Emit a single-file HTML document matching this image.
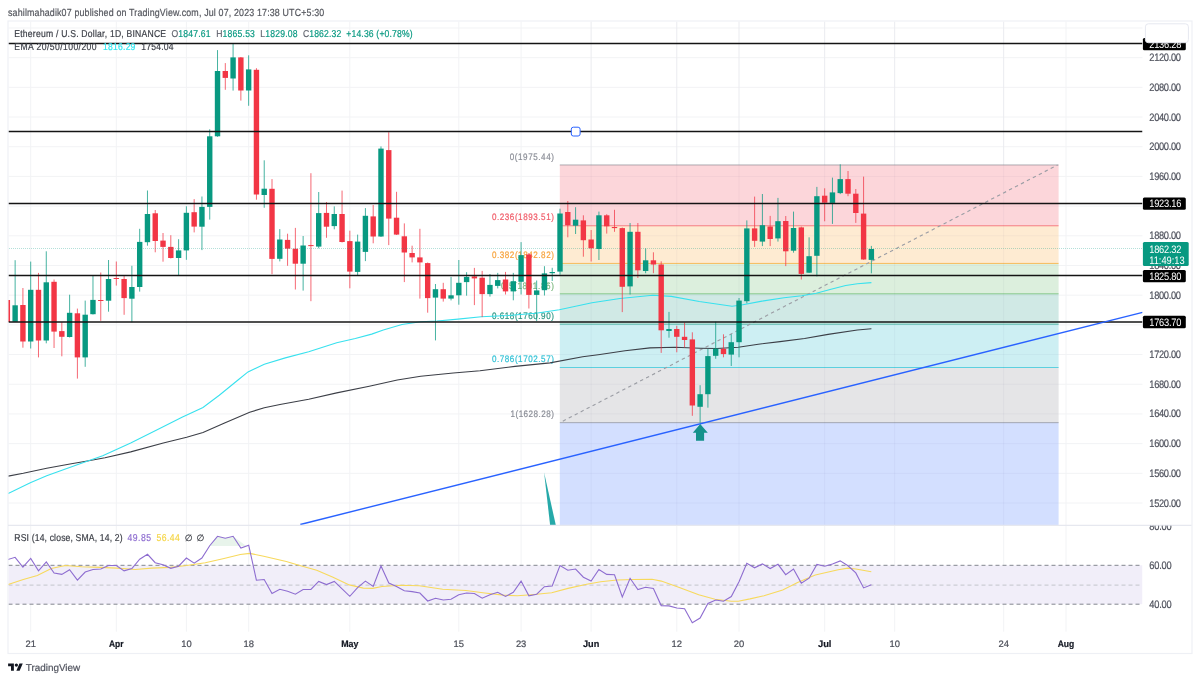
<!DOCTYPE html>
<html><head><meta charset="utf-8"><title>ETHUSD chart</title>
<style>
html,body{margin:0;padding:0;background:#fff;width:1200px;height:681px;overflow:hidden}
svg{display:block;will-change:transform;text-rendering:geometricPrecision}
text{font-family:'Liberation Sans', Arial, sans-serif}
</style></head><body>
<svg width="1200" height="681" viewBox="0 0 1200 681">
<defs>
<clipPath id="plot"><rect x="8.5" y="21.5" width="1134.0" height="503.79999999999995"/></clipPath>
<clipPath id="rsi"><rect x="8.5" y="525.3" width="1134.0" height="106.40000000000009"/></clipPath>
<clipPath id="rsiaxis"><rect x="1142.5" y="525.8" width="49.0" height="106.40000000000009"/></clipPath>
</defs>
<rect width="1200" height="681" fill="#fff"/>

<text x="9.30" y="16.0" font-size="10.3" fill="#55575e" textLength="367.79" lengthAdjust="spacing" transform="scale(0.86,1)" stroke="#55575e" stroke-width="0.2">sahilmahadik07 published on TradingView.com, Jul 07, 2023 17:38 UTC+5:30</text>
<rect x="8" y="21" width="1184.0" height="632.5" fill="none" stroke="#eef0f5" stroke-width="1.2"/>
<g stroke="#f2f3f5" stroke-width="1">
<line x1="30.7" y1="21.5" x2="30.7" y2="631.7"/>
<line x1="116.3" y1="21.5" x2="116.3" y2="631.7"/>
<line x1="186.4" y1="21.5" x2="186.4" y2="631.7"/>
<line x1="248.7" y1="21.5" x2="248.7" y2="631.7"/>
<line x1="349.8" y1="21.5" x2="349.8" y2="631.7"/>
<line x1="458.8" y1="21.5" x2="458.8" y2="631.7"/>
<line x1="521.1" y1="21.5" x2="521.1" y2="631.7"/>
<line x1="591.1" y1="21.5" x2="591.1" y2="631.7"/>
<line x1="676.8" y1="21.5" x2="676.8" y2="631.7"/>
<line x1="739.0" y1="21.5" x2="739.0" y2="631.7"/>
<line x1="824.7" y1="21.5" x2="824.7" y2="631.7"/>
<line x1="894.7" y1="21.5" x2="894.7" y2="631.7"/>
<line x1="1003.7" y1="21.5" x2="1003.7" y2="631.7"/>
<line x1="1066.0" y1="21.5" x2="1066.0" y2="631.7"/>
<line x1="8.5" y1="27.97" x2="1142.5" y2="27.97"/>
<line x1="8.5" y1="57.66" x2="1142.5" y2="57.66"/>
<line x1="8.5" y1="87.35" x2="1142.5" y2="87.35"/>
<line x1="8.5" y1="117.04" x2="1142.5" y2="117.04"/>
<line x1="8.5" y1="146.73" x2="1142.5" y2="146.73"/>
<line x1="8.5" y1="176.42" x2="1142.5" y2="176.42"/>
<line x1="8.5" y1="206.12" x2="1142.5" y2="206.12"/>
<line x1="8.5" y1="235.81" x2="1142.5" y2="235.81"/>
<line x1="8.5" y1="265.50" x2="1142.5" y2="265.50"/>
<line x1="8.5" y1="295.19" x2="1142.5" y2="295.19"/>
<line x1="8.5" y1="324.88" x2="1142.5" y2="324.88"/>
<line x1="8.5" y1="354.57" x2="1142.5" y2="354.57"/>
<line x1="8.5" y1="384.26" x2="1142.5" y2="384.26"/>
<line x1="8.5" y1="413.95" x2="1142.5" y2="413.95"/>
<line x1="8.5" y1="443.65" x2="1142.5" y2="443.65"/>
<line x1="8.5" y1="473.34" x2="1142.5" y2="473.34"/>
<line x1="8.5" y1="503.03" x2="1142.5" y2="503.03"/>
</g>
<g clip-path="url(#plot)">
<rect x="559.8" y="164.96" width="498.8" height="60.82" fill="#fcd6da"/>
<rect x="559.8" y="225.78" width="498.8" height="37.63" fill="#feebd2"/>
<rect x="559.8" y="263.41" width="498.8" height="30.40" fill="#dcefdd"/>
<rect x="559.8" y="293.81" width="498.8" height="30.40" fill="#d0e9e5"/>
<rect x="559.8" y="324.21" width="498.8" height="43.30" fill="#cdeff3"/>
<rect x="559.8" y="367.51" width="498.8" height="55.14" fill="#e5e5e7"/>
<rect x="559.8" y="422.65" width="498.8" height="104.65" fill="#d3dfff"/>
</g>
<g stroke="#1a2a60" stroke-opacity="0.035" stroke-width="1" clip-path="url(#plot)">
<line x1="591.1" y1="21.5" x2="591.1" y2="525.3"/>
<line x1="676.8" y1="21.5" x2="676.8" y2="525.3"/>
<line x1="739.0" y1="21.5" x2="739.0" y2="525.3"/>
<line x1="824.7" y1="21.5" x2="824.7" y2="525.3"/>
<line x1="894.7" y1="21.5" x2="894.7" y2="525.3"/>
<line x1="1003.7" y1="21.5" x2="1003.7" y2="525.3"/>
<line x1="559.8" y1="176.42" x2="1058.6" y2="176.42"/>
<line x1="559.8" y1="206.12" x2="1058.6" y2="206.12"/>
<line x1="559.8" y1="235.81" x2="1058.6" y2="235.81"/>
<line x1="559.8" y1="265.50" x2="1058.6" y2="265.50"/>
<line x1="559.8" y1="295.19" x2="1058.6" y2="295.19"/>
<line x1="559.8" y1="324.88" x2="1058.6" y2="324.88"/>
<line x1="559.8" y1="354.57" x2="1058.6" y2="354.57"/>
<line x1="559.8" y1="384.26" x2="1058.6" y2="384.26"/>
<line x1="559.8" y1="413.95" x2="1058.6" y2="413.95"/>
<line x1="559.8" y1="443.65" x2="1058.6" y2="443.65"/>
<line x1="559.8" y1="473.34" x2="1058.6" y2="473.34"/>
<line x1="559.8" y1="503.03" x2="1058.6" y2="503.03"/>
</g>
<g clip-path="url(#plot)">
<line x1="559.8" y1="164.96" x2="1058.6" y2="164.96" stroke="#787b86" stroke-width="1" stroke-opacity="0.6"/>
<line x1="559.8" y1="225.78" x2="1058.6" y2="225.78" stroke="#f23645" stroke-width="1" stroke-opacity="0.6"/>
<line x1="559.8" y1="263.41" x2="1058.6" y2="263.41" stroke="#ff9800" stroke-width="1" stroke-opacity="0.6"/>
<line x1="559.8" y1="293.81" x2="1058.6" y2="293.81" stroke="#4caf50" stroke-width="1" stroke-opacity="0.6"/>
<line x1="559.8" y1="324.21" x2="1058.6" y2="324.21" stroke="#089981" stroke-width="1" stroke-opacity="0.6"/>
<line x1="559.8" y1="367.51" x2="1058.6" y2="367.51" stroke="#00bcd4" stroke-width="1" stroke-opacity="0.6"/>
<line x1="559.8" y1="422.65" x2="1058.6" y2="422.65" stroke="#787b86" stroke-width="1" stroke-opacity="0.6"/>
<text x="592.67" y="159.66" font-size="9.4" fill="#8a8d96" textLength="51.40" lengthAdjust="spacing" transform="scale(0.86,1)" stroke="#8a8d96" stroke-width="0.2">0(1975.44)</text>
<text x="571.98" y="220.48" font-size="9.4" fill="#f05a67" textLength="72.09" lengthAdjust="spacing" transform="scale(0.86,1)" stroke="#f05a67" stroke-width="0.2">0.236(1893.51)</text>
<text x="571.98" y="258.11" font-size="9.4" fill="#f7a23a" textLength="72.09" lengthAdjust="spacing" transform="scale(0.86,1)" stroke="#f7a23a" stroke-width="0.2">0.382(1842.82)</text>
<text x="582.44" y="288.51" font-size="9.4" fill="#7bb77e" textLength="61.63" lengthAdjust="spacing" transform="scale(0.86,1)" stroke="#7bb77e" stroke-width="0.2">0.5(1801.86)</text>
<text x="571.98" y="318.91" font-size="9.4" fill="#2a9683" textLength="72.09" lengthAdjust="spacing" transform="scale(0.86,1)" stroke="#2a9683" stroke-width="0.2">0.618(1760.90)</text>
<text x="571.98" y="362.21" font-size="9.4" fill="#2ec0d5" textLength="72.09" lengthAdjust="spacing" transform="scale(0.86,1)" stroke="#2ec0d5" stroke-width="0.2">0.786(1702.57)</text>
<text x="593.60" y="417.35" font-size="9.4" fill="#8a8d96" textLength="50.47" lengthAdjust="spacing" transform="scale(0.86,1)" stroke="#8a8d96" stroke-width="0.2">1(1628.28)</text>
<line x1="562.8" y1="421.15" x2="1057.6" y2="164.96" stroke="#9c9ea5" stroke-width="1.15" stroke-dasharray="3.4,3.3"/>
<polyline points="8.2,476.1 23.3,473.3 46.7,468.2 70.0,464.0 88.7,460.7 105.0,457.7 130.7,451.9 163.3,443.0 186.7,437.2 203.0,432.5 224.0,423.2 249.7,412.2 264.3,407.8 280.0,404.5 308.7,399.2 336.7,392.9 369.3,386.3 397.3,380.0 420.7,376.3 453.3,373.0 480.0,370.8 515.0,366.4 550.0,362.9 582.7,356.8 600.0,354.5 625.0,350.8 650.0,347.9 675.0,347.2 700.0,348.2 716.7,348.5 738.3,347.3 758.3,344.2 780.0,341.6 804.6,338.5 828.1,334.4 857.4,330.0 871.4,328.8" fill="none" stroke="#3c3f47" stroke-width="1.1"/>
<polyline points="8.2,493.6 30.3,482.7 46.7,475.7 79.3,464.0 102.7,455.8 130.7,443.0 158.7,429.0 182.0,417.3 203.0,407.5 219.3,395.2 238.0,380.0 248.0,371.9 264.3,364.2 285.3,357.9 308.7,351.8 336.7,342.7 355.3,338.5 371.7,334.1 383.3,329.9 402.0,324.5 420.7,321.7 437.0,321.0 458.0,319.1 481.3,316.8 508.0,315.5 536.0,313.2 559.3,309.7 592.0,302.7 620.0,298.5 652.7,295.2 671.3,296.4 699.3,301.5 732.0,306.2 741.5,305.0 762.0,301.1 784.0,297.7 801.7,295.8 816.3,293.3 831.0,289.3 845.7,285.5 857.4,283.8 871.4,282.6" fill="none" stroke="#38e1ee" stroke-width="1.1"/>
<line x1="7.35" y1="300.0" x2="7.35" y2="322.0" stroke="#f23645" stroke-width="1" stroke-opacity="0.75"/>
<rect x="4.65" y="300.0" width="5.4" height="22.0" fill="#f23645"/>
<line x1="15.13" y1="260.2" x2="15.13" y2="321.8" stroke="#089981" stroke-width="1" stroke-opacity="0.75"/>
<rect x="12.43" y="305.3" width="5.4" height="16.5" fill="#089981"/>
<line x1="22.92" y1="288.0" x2="22.92" y2="347.7" stroke="#f23645" stroke-width="1" stroke-opacity="0.75"/>
<rect x="20.22" y="305.0" width="5.4" height="36.5" fill="#f23645"/>
<line x1="30.70" y1="261.6" x2="30.70" y2="348.5" stroke="#089981" stroke-width="1" stroke-opacity="0.75"/>
<rect x="28.00" y="289.8" width="5.4" height="51.7" fill="#089981"/>
<line x1="38.48" y1="272.9" x2="38.48" y2="357.4" stroke="#f23645" stroke-width="1" stroke-opacity="0.75"/>
<rect x="35.78" y="289.8" width="5.4" height="50.7" fill="#f23645"/>
<line x1="46.27" y1="251.3" x2="46.27" y2="343.3" stroke="#089981" stroke-width="1" stroke-opacity="0.75"/>
<rect x="43.57" y="282.3" width="5.4" height="58.2" fill="#089981"/>
<line x1="54.05" y1="279.5" x2="54.05" y2="348.0" stroke="#f23645" stroke-width="1" stroke-opacity="0.75"/>
<rect x="51.35" y="281.8" width="5.4" height="49.8" fill="#f23645"/>
<line x1="61.84" y1="322.2" x2="61.84" y2="356.3" stroke="#f23645" stroke-width="1" stroke-opacity="0.75"/>
<rect x="59.14" y="331.1" width="5.4" height="5.7" fill="#f23645"/>
<line x1="69.62" y1="294.7" x2="69.62" y2="337.5" stroke="#089981" stroke-width="1" stroke-opacity="0.75"/>
<rect x="66.92" y="312.8" width="5.4" height="24.2" fill="#089981"/>
<line x1="77.40" y1="308.6" x2="77.40" y2="378.6" stroke="#f23645" stroke-width="1" stroke-opacity="0.75"/>
<rect x="74.70" y="313.3" width="5.4" height="44.1" fill="#f23645"/>
<line x1="85.19" y1="300.6" x2="85.19" y2="366.8" stroke="#089981" stroke-width="1" stroke-opacity="0.75"/>
<rect x="82.49" y="314.7" width="5.4" height="42.7" fill="#089981"/>
<line x1="92.97" y1="275.7" x2="92.97" y2="314.5" stroke="#089981" stroke-width="1" stroke-opacity="0.75"/>
<rect x="90.27" y="299.9" width="5.4" height="14.3" fill="#089981"/>
<line x1="100.76" y1="272.5" x2="100.76" y2="320.8" stroke="#f23645" stroke-width="1" stroke-opacity="0.75"/>
<rect x="98.06" y="300.0" width="5.4" height="1.0" fill="#f23645"/>
<line x1="108.54" y1="260.0" x2="108.54" y2="311.7" stroke="#089981" stroke-width="1" stroke-opacity="0.75"/>
<rect x="105.84" y="279.0" width="5.4" height="21.7" fill="#089981"/>
<line x1="116.32" y1="261.5" x2="116.32" y2="285.6" stroke="#f23645" stroke-width="1" stroke-opacity="0.75"/>
<rect x="113.62" y="278.0" width="5.4" height="1.0" fill="#f23645"/>
<line x1="124.11" y1="275.7" x2="124.11" y2="314.8" stroke="#f23645" stroke-width="1" stroke-opacity="0.75"/>
<rect x="121.41" y="279.0" width="5.4" height="19.1" fill="#f23645"/>
<line x1="131.89" y1="265.8" x2="131.89" y2="322.3" stroke="#089981" stroke-width="1" stroke-opacity="0.75"/>
<rect x="129.19" y="287.0" width="5.4" height="11.7" fill="#089981"/>
<line x1="139.68" y1="228.8" x2="139.68" y2="291.6" stroke="#089981" stroke-width="1" stroke-opacity="0.75"/>
<rect x="136.98" y="241.9" width="5.4" height="45.1" fill="#089981"/>
<line x1="147.46" y1="190.5" x2="147.46" y2="245.7" stroke="#089981" stroke-width="1" stroke-opacity="0.75"/>
<rect x="144.76" y="214.0" width="5.4" height="28.2" fill="#089981"/>
<line x1="155.24" y1="210.0" x2="155.24" y2="252.3" stroke="#f23645" stroke-width="1" stroke-opacity="0.75"/>
<rect x="152.54" y="213.3" width="5.4" height="27.7" fill="#f23645"/>
<line x1="163.03" y1="233.0" x2="163.03" y2="261.7" stroke="#f23645" stroke-width="1" stroke-opacity="0.75"/>
<rect x="160.33" y="240.6" width="5.4" height="6.3" fill="#f23645"/>
<line x1="170.81" y1="235.2" x2="170.81" y2="258.5" stroke="#f23645" stroke-width="1" stroke-opacity="0.75"/>
<rect x="168.11" y="246.9" width="5.4" height="11.1" fill="#f23645"/>
<line x1="178.60" y1="239.2" x2="178.60" y2="275.1" stroke="#089981" stroke-width="1" stroke-opacity="0.75"/>
<rect x="175.90" y="250.4" width="5.4" height="7.6" fill="#089981"/>
<line x1="186.38" y1="206.3" x2="186.38" y2="259.8" stroke="#089981" stroke-width="1" stroke-opacity="0.75"/>
<rect x="183.68" y="212.8" width="5.4" height="37.6" fill="#089981"/>
<line x1="194.16" y1="199.1" x2="194.16" y2="232.4" stroke="#f23645" stroke-width="1" stroke-opacity="0.75"/>
<rect x="191.46" y="212.2" width="5.4" height="14.4" fill="#f23645"/>
<line x1="201.95" y1="196.5" x2="201.95" y2="250.1" stroke="#089981" stroke-width="1" stroke-opacity="0.75"/>
<rect x="199.25" y="206.9" width="5.4" height="19.8" fill="#089981"/>
<line x1="209.73" y1="129.3" x2="209.73" y2="219.6" stroke="#089981" stroke-width="1" stroke-opacity="0.75"/>
<rect x="207.03" y="136.3" width="5.4" height="70.6" fill="#089981"/>
<line x1="217.52" y1="50.1" x2="217.52" y2="136.8" stroke="#089981" stroke-width="1" stroke-opacity="0.75"/>
<rect x="214.82" y="71.0" width="5.4" height="65.3" fill="#089981"/>
<line x1="225.30" y1="63.1" x2="225.30" y2="89.8" stroke="#f23645" stroke-width="1" stroke-opacity="0.75"/>
<rect x="222.60" y="71.0" width="5.4" height="6.9" fill="#f23645"/>
<line x1="233.08" y1="43.5" x2="233.08" y2="90.6" stroke="#089981" stroke-width="1" stroke-opacity="0.75"/>
<rect x="230.38" y="57.4" width="5.4" height="21.1" fill="#089981"/>
<line x1="240.87" y1="57.0" x2="240.87" y2="100.6" stroke="#f23645" stroke-width="1" stroke-opacity="0.75"/>
<rect x="238.17" y="57.4" width="5.4" height="33.1" fill="#f23645"/>
<line x1="248.65" y1="55.3" x2="248.65" y2="105.8" stroke="#089981" stroke-width="1" stroke-opacity="0.75"/>
<rect x="245.95" y="69.4" width="5.4" height="21.1" fill="#089981"/>
<line x1="256.44" y1="68.2" x2="256.44" y2="199.7" stroke="#f23645" stroke-width="1" stroke-opacity="0.75"/>
<rect x="253.74" y="69.8" width="5.4" height="124.7" fill="#f23645"/>
<line x1="264.22" y1="160.3" x2="264.22" y2="207.8" stroke="#089981" stroke-width="1" stroke-opacity="0.75"/>
<rect x="261.52" y="188.7" width="5.4" height="6.3" fill="#089981"/>
<line x1="272.00" y1="179.1" x2="272.00" y2="274.2" stroke="#f23645" stroke-width="1" stroke-opacity="0.75"/>
<rect x="269.30" y="188.8" width="5.4" height="70.1" fill="#f23645"/>
<line x1="279.79" y1="229.1" x2="279.79" y2="261.4" stroke="#089981" stroke-width="1" stroke-opacity="0.75"/>
<rect x="277.09" y="239.5" width="5.4" height="19.3" fill="#089981"/>
<line x1="287.57" y1="233.7" x2="287.57" y2="265.8" stroke="#f23645" stroke-width="1" stroke-opacity="0.75"/>
<rect x="284.87" y="239.9" width="5.4" height="8.8" fill="#f23645"/>
<line x1="295.36" y1="227.9" x2="295.36" y2="289.5" stroke="#f23645" stroke-width="1" stroke-opacity="0.75"/>
<rect x="292.66" y="248.7" width="5.4" height="15.0" fill="#f23645"/>
<line x1="303.14" y1="236.0" x2="303.14" y2="290.6" stroke="#089981" stroke-width="1" stroke-opacity="0.75"/>
<rect x="300.44" y="245.5" width="5.4" height="18.2" fill="#089981"/>
<line x1="310.92" y1="173.2" x2="310.92" y2="301.2" stroke="#f23645" stroke-width="1" stroke-opacity="0.75"/>
<rect x="308.22" y="245.1" width="5.4" height="1.0" fill="#f23645"/>
<line x1="318.71" y1="192.0" x2="318.71" y2="248.3" stroke="#089981" stroke-width="1" stroke-opacity="0.75"/>
<rect x="316.01" y="213.1" width="5.4" height="33.5" fill="#089981"/>
<line x1="326.49" y1="202.0" x2="326.49" y2="237.8" stroke="#f23645" stroke-width="1" stroke-opacity="0.75"/>
<rect x="323.79" y="212.9" width="5.4" height="13.8" fill="#f23645"/>
<line x1="334.28" y1="206.4" x2="334.28" y2="229.3" stroke="#089981" stroke-width="1" stroke-opacity="0.75"/>
<rect x="331.58" y="214.0" width="5.4" height="12.1" fill="#089981"/>
<line x1="342.06" y1="190.6" x2="342.06" y2="242.5" stroke="#f23645" stroke-width="1" stroke-opacity="0.75"/>
<rect x="339.36" y="214.0" width="5.4" height="28.0" fill="#f23645"/>
<line x1="349.84" y1="230.7" x2="349.84" y2="288.3" stroke="#f23645" stroke-width="1" stroke-opacity="0.75"/>
<rect x="347.14" y="241.1" width="5.4" height="30.5" fill="#f23645"/>
<line x1="357.63" y1="234.6" x2="357.63" y2="276.0" stroke="#089981" stroke-width="1" stroke-opacity="0.75"/>
<rect x="354.93" y="241.6" width="5.4" height="30.3" fill="#089981"/>
<line x1="365.41" y1="208.1" x2="365.41" y2="261.1" stroke="#089981" stroke-width="1" stroke-opacity="0.75"/>
<rect x="362.71" y="215.8" width="5.4" height="36.1" fill="#089981"/>
<line x1="373.20" y1="205.0" x2="373.20" y2="243.3" stroke="#f23645" stroke-width="1" stroke-opacity="0.75"/>
<rect x="370.50" y="216.4" width="5.4" height="20.1" fill="#f23645"/>
<line x1="380.98" y1="146.4" x2="380.98" y2="237.0" stroke="#089981" stroke-width="1" stroke-opacity="0.75"/>
<rect x="378.28" y="148.6" width="5.4" height="87.9" fill="#089981"/>
<line x1="388.76" y1="132.2" x2="388.76" y2="245.1" stroke="#f23645" stroke-width="1" stroke-opacity="0.75"/>
<rect x="386.06" y="150.1" width="5.4" height="68.5" fill="#f23645"/>
<line x1="396.55" y1="191.8" x2="396.55" y2="235.0" stroke="#f23645" stroke-width="1" stroke-opacity="0.75"/>
<rect x="393.85" y="217.7" width="5.4" height="16.9" fill="#f23645"/>
<line x1="404.33" y1="223.4" x2="404.33" y2="282.1" stroke="#f23645" stroke-width="1" stroke-opacity="0.75"/>
<rect x="401.63" y="236.3" width="5.4" height="16.2" fill="#f23645"/>
<line x1="412.12" y1="245.7" x2="412.12" y2="262.4" stroke="#f23645" stroke-width="1" stroke-opacity="0.75"/>
<rect x="409.42" y="253.0" width="5.4" height="4.4" fill="#f23645"/>
<line x1="419.90" y1="228.8" x2="419.90" y2="298.6" stroke="#f23645" stroke-width="1" stroke-opacity="0.75"/>
<rect x="417.20" y="257.4" width="5.4" height="5.0" fill="#f23645"/>
<line x1="427.68" y1="262.5" x2="427.68" y2="312.7" stroke="#f23645" stroke-width="1" stroke-opacity="0.75"/>
<rect x="424.98" y="263.1" width="5.4" height="35.0" fill="#f23645"/>
<line x1="435.47" y1="284.0" x2="435.47" y2="340.4" stroke="#089981" stroke-width="1" stroke-opacity="0.75"/>
<rect x="432.77" y="289.2" width="5.4" height="8.4" fill="#089981"/>
<line x1="443.25" y1="282.8" x2="443.25" y2="301.6" stroke="#f23645" stroke-width="1" stroke-opacity="0.75"/>
<rect x="440.55" y="289.2" width="5.4" height="9.4" fill="#f23645"/>
<line x1="451.04" y1="276.9" x2="451.04" y2="300.4" stroke="#089981" stroke-width="1" stroke-opacity="0.75"/>
<rect x="448.34" y="295.3" width="5.4" height="3.3" fill="#089981"/>
<line x1="458.82" y1="260.0" x2="458.82" y2="304.7" stroke="#089981" stroke-width="1" stroke-opacity="0.75"/>
<rect x="456.12" y="282.8" width="5.4" height="12.5" fill="#089981"/>
<line x1="466.60" y1="272.2" x2="466.60" y2="295.7" stroke="#089981" stroke-width="1" stroke-opacity="0.75"/>
<rect x="463.90" y="276.9" width="5.4" height="5.2" fill="#089981"/>
<line x1="474.39" y1="267.9" x2="474.39" y2="305.1" stroke="#f23645" stroke-width="1" stroke-opacity="0.75"/>
<rect x="471.69" y="276.4" width="5.4" height="2.0" fill="#f23645"/>
<line x1="482.17" y1="270.9" x2="482.17" y2="317.1" stroke="#f23645" stroke-width="1" stroke-opacity="0.75"/>
<rect x="479.47" y="277.7" width="5.4" height="16.4" fill="#f23645"/>
<line x1="489.96" y1="274.0" x2="489.96" y2="296.6" stroke="#089981" stroke-width="1" stroke-opacity="0.75"/>
<rect x="487.26" y="284.9" width="5.4" height="9.2" fill="#089981"/>
<line x1="497.74" y1="272.9" x2="497.74" y2="288.4" stroke="#089981" stroke-width="1" stroke-opacity="0.75"/>
<rect x="495.04" y="280.1" width="5.4" height="5.8" fill="#089981"/>
<line x1="505.52" y1="271.9" x2="505.52" y2="294.5" stroke="#f23645" stroke-width="1" stroke-opacity="0.75"/>
<rect x="502.82" y="279.5" width="5.4" height="11.9" fill="#f23645"/>
<line x1="513.31" y1="272.9" x2="513.31" y2="300.3" stroke="#089981" stroke-width="1" stroke-opacity="0.75"/>
<rect x="510.61" y="281.2" width="5.4" height="10.2" fill="#089981"/>
<line x1="521.09" y1="242.1" x2="521.09" y2="294.5" stroke="#089981" stroke-width="1" stroke-opacity="0.75"/>
<rect x="518.39" y="255.1" width="5.4" height="26.7" fill="#089981"/>
<line x1="528.88" y1="253.0" x2="528.88" y2="308.5" stroke="#f23645" stroke-width="1" stroke-opacity="0.75"/>
<rect x="526.18" y="254.4" width="5.4" height="40.5" fill="#f23645"/>
<line x1="536.66" y1="280.5" x2="536.66" y2="321.2" stroke="#089981" stroke-width="1" stroke-opacity="0.75"/>
<rect x="533.96" y="290.4" width="5.4" height="4.5" fill="#089981"/>
<line x1="544.44" y1="266.2" x2="544.44" y2="295.5" stroke="#089981" stroke-width="1" stroke-opacity="0.75"/>
<rect x="541.74" y="273.4" width="5.4" height="16.8" fill="#089981"/>
<line x1="552.23" y1="267.8" x2="552.23" y2="281.0" stroke="#089981" stroke-width="1" stroke-opacity="0.75"/>
<rect x="549.53" y="272.0" width="5.4" height="1.2" fill="#089981"/>
<line x1="560.01" y1="208.7" x2="560.01" y2="274.7" stroke="#089981" stroke-width="1" stroke-opacity="0.75"/>
<rect x="557.31" y="213.5" width="5.4" height="58.1" fill="#089981"/>
<line x1="567.80" y1="201.0" x2="567.80" y2="237.3" stroke="#f23645" stroke-width="1" stroke-opacity="0.75"/>
<rect x="565.10" y="212.0" width="5.4" height="13.2" fill="#f23645"/>
<line x1="575.58" y1="207.2" x2="575.58" y2="234.0" stroke="#089981" stroke-width="1" stroke-opacity="0.75"/>
<rect x="572.88" y="219.7" width="5.4" height="6.0" fill="#089981"/>
<line x1="583.36" y1="215.3" x2="583.36" y2="256.7" stroke="#f23645" stroke-width="1" stroke-opacity="0.75"/>
<rect x="580.66" y="220.4" width="5.4" height="19.8" fill="#f23645"/>
<line x1="591.15" y1="230.0" x2="591.15" y2="261.5" stroke="#f23645" stroke-width="1" stroke-opacity="0.75"/>
<rect x="588.45" y="239.5" width="5.4" height="8.8" fill="#f23645"/>
<line x1="598.93" y1="211.6" x2="598.93" y2="260.0" stroke="#089981" stroke-width="1" stroke-opacity="0.75"/>
<rect x="596.23" y="215.3" width="5.4" height="33.7" fill="#089981"/>
<line x1="606.72" y1="214.2" x2="606.72" y2="233.6" stroke="#f23645" stroke-width="1" stroke-opacity="0.75"/>
<rect x="604.02" y="215.3" width="5.4" height="11.0" fill="#f23645"/>
<line x1="614.50" y1="209.8" x2="614.50" y2="231.8" stroke="#f23645" stroke-width="1" stroke-opacity="0.75"/>
<rect x="611.80" y="227.0" width="5.4" height="1.1" fill="#f23645"/>
<line x1="622.28" y1="227.5" x2="622.28" y2="312.1" stroke="#f23645" stroke-width="1" stroke-opacity="0.75"/>
<rect x="619.58" y="228.1" width="5.4" height="58.7" fill="#f23645"/>
<line x1="630.07" y1="223.0" x2="630.07" y2="294.5" stroke="#089981" stroke-width="1" stroke-opacity="0.75"/>
<rect x="627.37" y="231.8" width="5.4" height="54.6" fill="#089981"/>
<line x1="637.85" y1="223.0" x2="637.85" y2="278.0" stroke="#f23645" stroke-width="1" stroke-opacity="0.75"/>
<rect x="635.15" y="231.8" width="5.4" height="38.5" fill="#f23645"/>
<line x1="645.64" y1="248.4" x2="645.64" y2="273.2" stroke="#089981" stroke-width="1" stroke-opacity="0.75"/>
<rect x="642.94" y="260.3" width="5.4" height="10.7" fill="#089981"/>
<line x1="653.42" y1="252.3" x2="653.42" y2="273.2" stroke="#f23645" stroke-width="1" stroke-opacity="0.75"/>
<rect x="650.72" y="260.3" width="5.4" height="4.2" fill="#f23645"/>
<line x1="661.20" y1="261.3" x2="661.20" y2="352.9" stroke="#f23645" stroke-width="1" stroke-opacity="0.75"/>
<rect x="658.50" y="264.5" width="5.4" height="65.8" fill="#f23645"/>
<line x1="668.99" y1="311.9" x2="668.99" y2="337.7" stroke="#089981" stroke-width="1" stroke-opacity="0.75"/>
<rect x="666.29" y="329.0" width="5.4" height="2.0" fill="#089981"/>
<line x1="676.77" y1="325.8" x2="676.77" y2="352.3" stroke="#f23645" stroke-width="1" stroke-opacity="0.75"/>
<rect x="674.07" y="329.0" width="5.4" height="7.8" fill="#f23645"/>
<line x1="684.56" y1="322.6" x2="684.56" y2="347.4" stroke="#f23645" stroke-width="1" stroke-opacity="0.75"/>
<rect x="681.86" y="336.8" width="5.4" height="3.2" fill="#f23645"/>
<line x1="692.34" y1="332.3" x2="692.34" y2="415.8" stroke="#f23645" stroke-width="1" stroke-opacity="0.75"/>
<rect x="689.64" y="339.4" width="5.4" height="66.1" fill="#f23645"/>
<line x1="700.12" y1="385.2" x2="700.12" y2="422.8" stroke="#089981" stroke-width="1" stroke-opacity="0.75"/>
<rect x="697.42" y="394.2" width="5.4" height="12.6" fill="#089981"/>
<line x1="707.91" y1="349.0" x2="707.91" y2="407.7" stroke="#089981" stroke-width="1" stroke-opacity="0.75"/>
<rect x="705.21" y="356.1" width="5.4" height="38.1" fill="#089981"/>
<line x1="715.69" y1="321.7" x2="715.69" y2="358.8" stroke="#089981" stroke-width="1" stroke-opacity="0.75"/>
<rect x="712.99" y="348.6" width="5.4" height="7.2" fill="#089981"/>
<line x1="723.48" y1="334.3" x2="723.48" y2="357.3" stroke="#f23645" stroke-width="1" stroke-opacity="0.75"/>
<rect x="720.78" y="348.8" width="5.4" height="5.3" fill="#f23645"/>
<line x1="731.26" y1="334.3" x2="731.26" y2="366.0" stroke="#089981" stroke-width="1" stroke-opacity="0.75"/>
<rect x="728.56" y="342.2" width="5.4" height="12.4" fill="#089981"/>
<line x1="739.04" y1="298.0" x2="739.04" y2="357.3" stroke="#089981" stroke-width="1" stroke-opacity="0.75"/>
<rect x="736.34" y="300.6" width="5.4" height="41.6" fill="#089981"/>
<line x1="746.83" y1="220.4" x2="746.83" y2="303.3" stroke="#089981" stroke-width="1" stroke-opacity="0.75"/>
<rect x="744.13" y="228.4" width="5.4" height="72.8" fill="#089981"/>
<line x1="754.61" y1="196.6" x2="754.61" y2="246.9" stroke="#f23645" stroke-width="1" stroke-opacity="0.75"/>
<rect x="751.91" y="228.4" width="5.4" height="12.4" fill="#f23645"/>
<line x1="762.40" y1="194.0" x2="762.40" y2="246.1" stroke="#089981" stroke-width="1" stroke-opacity="0.75"/>
<rect x="759.70" y="225.2" width="5.4" height="16.4" fill="#089981"/>
<line x1="770.18" y1="215.9" x2="770.18" y2="246.1" stroke="#f23645" stroke-width="1" stroke-opacity="0.75"/>
<rect x="767.48" y="226.5" width="5.4" height="12.5" fill="#f23645"/>
<line x1="777.96" y1="197.9" x2="777.96" y2="241.6" stroke="#089981" stroke-width="1" stroke-opacity="0.75"/>
<rect x="775.26" y="221.2" width="5.4" height="17.2" fill="#089981"/>
<line x1="785.75" y1="216.0" x2="785.75" y2="266.1" stroke="#f23645" stroke-width="1" stroke-opacity="0.75"/>
<rect x="783.05" y="221.0" width="5.4" height="30.3" fill="#f23645"/>
<line x1="793.53" y1="211.6" x2="793.53" y2="252.7" stroke="#089981" stroke-width="1" stroke-opacity="0.75"/>
<rect x="790.83" y="228.0" width="5.4" height="22.7" fill="#089981"/>
<line x1="801.32" y1="226.6" x2="801.32" y2="279.5" stroke="#f23645" stroke-width="1" stroke-opacity="0.75"/>
<rect x="798.62" y="227.4" width="5.4" height="46.5" fill="#f23645"/>
<line x1="809.10" y1="237.3" x2="809.10" y2="273.0" stroke="#089981" stroke-width="1" stroke-opacity="0.75"/>
<rect x="806.40" y="256.2" width="5.4" height="16.5" fill="#089981"/>
<line x1="816.88" y1="186.9" x2="816.88" y2="276.4" stroke="#089981" stroke-width="1" stroke-opacity="0.75"/>
<rect x="814.18" y="196.2" width="5.4" height="59.6" fill="#089981"/>
<line x1="824.67" y1="188.3" x2="824.67" y2="221.3" stroke="#f23645" stroke-width="1" stroke-opacity="0.75"/>
<rect x="821.97" y="195.7" width="5.4" height="7.0" fill="#f23645"/>
<line x1="832.45" y1="177.6" x2="832.45" y2="223.9" stroke="#089981" stroke-width="1" stroke-opacity="0.75"/>
<rect x="829.75" y="192.4" width="5.4" height="10.5" fill="#089981"/>
<line x1="840.24" y1="164.3" x2="840.24" y2="194.1" stroke="#089981" stroke-width="1" stroke-opacity="0.75"/>
<rect x="837.54" y="179.1" width="5.4" height="14.0" fill="#089981"/>
<line x1="848.02" y1="171.0" x2="848.02" y2="196.2" stroke="#f23645" stroke-width="1" stroke-opacity="0.75"/>
<rect x="845.32" y="179.1" width="5.4" height="14.6" fill="#f23645"/>
<line x1="855.80" y1="189.0" x2="855.80" y2="222.9" stroke="#f23645" stroke-width="1" stroke-opacity="0.75"/>
<rect x="853.10" y="193.7" width="5.4" height="19.3" fill="#f23645"/>
<line x1="863.59" y1="176.6" x2="863.59" y2="259.8" stroke="#f23645" stroke-width="1" stroke-opacity="0.75"/>
<rect x="860.89" y="213.6" width="5.4" height="45.9" fill="#f23645"/>
<line x1="871.37" y1="245.9" x2="871.37" y2="273.3" stroke="#089981" stroke-width="1" stroke-opacity="0.75"/>
<rect x="868.67" y="249.0" width="5.4" height="10.9" fill="#089981"/>
<line x1="8.5" y1="43.6" x2="1142.5" y2="43.6" stroke="#141414" stroke-width="1.5"/>
<line x1="8.5" y1="131.45" x2="1142.5" y2="131.45" stroke="#141414" stroke-width="1.5"/>
<line x1="8.5" y1="203.5" x2="1142.5" y2="203.5" stroke="#141414" stroke-width="1.5"/>
<line x1="8.5" y1="275.55" x2="1142.5" y2="275.55" stroke="#141414" stroke-width="1.5"/>
<line x1="8.5" y1="322.0" x2="1142.5" y2="322.0" stroke="#141414" stroke-width="1.5"/>
<line x1="300.3" y1="524.5" x2="1142.6" y2="312.4" stroke="#2962ff" stroke-width="1.4"/>
<polygon points="544.1,472.4 550.2,526 556,526" fill="#26a9a9"/>
<polygon points="700.2,423.9 707.8,432.7 704.1,432.7 704.1,440.7 696,440.7 696,432.7 692.8,432.7" fill="#14918c"/>
<rect x="571.3" y="127.2" width="8.8" height="8.8" rx="2" fill="#fff" stroke="#2962ff" stroke-width="1"/>
<line x1="9" y1="248.5" x2="1142.5" y2="248.5" stroke="#089981" stroke-width="1" stroke-dasharray="1,1" stroke-opacity="0.3"/>
</g>
<text x="16.63" y="36.5" font-size="10.0" fill="#3b3e46" textLength="176.51" lengthAdjust="spacing" transform="scale(0.86,1)" stroke="#3b3e46" stroke-width="0.2">Ethereum / U.S. Dollar, 1D, BINANCE</text>
<text x="199.30" y="36.5" font-size="10.0" fill="#62656f" textLength="45.58" lengthAdjust="spacing" transform="scale(0.86,1)" stroke="#62656f" stroke-width="0.2">O<tspan fill="#089981" stroke="#089981" stroke-width="0.2">1847.61</tspan></text>
<text x="251.40" y="36.5" font-size="10.0" fill="#62656f" textLength="45.00" lengthAdjust="spacing" transform="scale(0.86,1)" stroke="#62656f" stroke-width="0.2">H<tspan fill="#089981" stroke="#089981" stroke-width="0.2">1865.53</tspan></text>
<text x="302.67" y="36.5" font-size="10.0" fill="#62656f" textLength="43.26" lengthAdjust="spacing" transform="scale(0.86,1)" stroke="#62656f" stroke-width="0.2">L<tspan fill="#089981" stroke="#089981" stroke-width="0.2">1829.08</tspan></text>
<text x="352.21" y="36.5" font-size="10.0" fill="#62656f" textLength="44.53" lengthAdjust="spacing" transform="scale(0.86,1)" stroke="#62656f" stroke-width="0.2">C<tspan fill="#089981" stroke="#089981" stroke-width="0.2">1862.32</tspan></text>
<text x="402.67" y="36.5" font-size="10.0" fill="#089981" textLength="77.21" lengthAdjust="spacing" transform="scale(0.86,1)" stroke="#089981" stroke-width="0.2">+14.36 (+0.78%)</text>
<text x="16.63" y="49.8" font-size="10.0" fill="#3b3e46" textLength="95.70" lengthAdjust="spacing" transform="scale(0.86,1)" stroke="#3b3e46" stroke-width="0.2">EMA 20/50/100/200</text>
<text x="119.88" y="49.8" font-size="10.0" fill="#2ee6f0" textLength="37.56" lengthAdjust="spacing" transform="scale(0.86,1)" stroke="#2ee6f0" stroke-width="0.2">1816.29</text>
<text x="164.30" y="49.8" font-size="10.0" fill="#3b3e46" textLength="37.56" lengthAdjust="spacing" transform="scale(0.86,1)" stroke="#3b3e46" stroke-width="0.2">1754.04</text>
<g clip-path="url(#rsi)">
<rect x="8.5" y="565.3" width="1134.0" height="38.90000000000009" fill="#f1eef9"/>
<line x1="8.5" y1="565.3" x2="1142.5" y2="565.3" stroke="#83868f" stroke-width="1" stroke-dasharray="4,3"/>
<line x1="8.5" y1="585.1" x2="1142.5" y2="585.1" stroke="#c3c5cc" stroke-width="1" stroke-dasharray="4,3"/>
<line x1="8.5" y1="604.2" x2="1142.5" y2="604.2" stroke="#83868f" stroke-width="1" stroke-dasharray="4,3"/>
<polygon points="209.0,546 209.7,545.7 217.5,536.3 225.3,538.2 233.1,536.3 246.3,546" fill="#e8f4eb"/>
<polyline points="8.2,584.6 23.3,579.5 37.3,575.5 51.3,568.5 65.3,565.5 81.7,566.7 100.3,567.4 116.7,568.1 135.3,569.5 151.7,568.1 170.3,567.4 186.7,565.5 205.3,562.7 224.0,558.5 240.3,554.5 249.7,553.4 263.7,556.2 286.3,561.5 298.0,565.0 316.7,570.2 333.0,577.2 349.3,584.9 363.3,588.1 372.7,588.4 382.0,586.5 400.7,585.3 419.3,585.8 442.7,589.3 466.0,590.5 484.7,593.0 503.3,595.1 517.3,595.8 531.3,594.7 551.7,592.8 568.0,588.4 586.7,584.2 600.7,581.8 617.0,580.0 633.3,579.5 652.0,579.3 661.3,581.1 680.0,587.7 698.7,594.7 715.0,599.3 731.3,601.2 738.3,601.2 750.0,598.9 764.0,595.8 782.7,590.0 797.6,582.6 815.3,575.0 838.2,569.7 847.9,568.1 855.8,569.0 871.3,571.7" fill="none" stroke="#f7d95c" stroke-width="1.1"/>
<polyline points="7.3,559.7 15.1,557.3 22.9,567.1 30.7,558.5 38.5,570.9 46.3,562.0 54.1,573.0 61.8,574.4 69.6,569.7 77.4,580.2 85.2,572.0 93.0,569.5 100.8,569.0 108.5,565.5 116.3,565.5 124.1,570.9 131.9,568.5 139.7,559.2 147.5,554.3 155.2,562.7 163.0,564.8 170.8,568.3 178.6,566.2 186.4,558.0 194.2,563.2 201.9,558.0 209.7,545.7 217.5,536.3 225.3,538.2 233.1,536.3 240.9,548.0 248.7,545.2 256.4,580.2 264.2,579.5 272.0,593.5 279.8,589.3 287.6,591.2 295.4,594.2 303.1,589.5 310.9,589.5 318.7,581.4 326.5,584.6 334.3,581.4 342.1,588.8 349.8,596.3 357.6,587.7 365.4,581.1 373.2,586.5 381.0,566.0 388.8,583.0 396.5,586.5 404.3,590.7 412.1,591.6 419.9,593.0 427.7,601.0 435.5,598.2 443.3,600.0 451.0,599.3 458.8,594.7 466.6,593.0 474.4,593.5 482.2,598.2 490.0,594.7 497.7,592.3 505.5,596.5 513.3,592.3 521.1,581.1 528.9,595.8 536.7,594.2 544.4,586.7 552.2,586.0 560.0,565.5 567.8,570.2 575.6,569.0 583.4,577.2 591.1,581.1 598.9,569.5 606.7,574.4 614.5,574.8 622.3,597.0 630.1,578.3 637.9,589.5 645.6,587.2 653.4,588.4 661.2,605.6 669.0,605.9 676.8,608.0 684.6,608.7 692.3,622.7 700.1,618.0 707.9,603.5 715.7,600.0 723.5,601.2 731.3,596.5 739.0,581.8 746.8,563.2 754.6,567.8 762.4,563.9 770.2,568.5 778.0,564.3 785.7,574.7 793.5,569.0 801.3,583.1 809.1,578.2 816.9,564.4 824.7,566.2 832.5,564.1 840.2,560.9 848.0,565.8 855.8,572.9 863.6,587.9 871.4,584.7" fill="none" stroke="#8e6dd0" stroke-width="1.1"/>
</g>
<text x="16.63" y="541.4" font-size="10.0" fill="#3b3e46" textLength="125.93" lengthAdjust="spacing" transform="scale(0.86,1)" stroke="#3b3e46" stroke-width="0.2">RSI (14, close, SMA, 14, 2)</text>
<text x="148.37" y="541.4" font-size="10.0" fill="#8e6dd0" textLength="27.21" lengthAdjust="spacing" transform="scale(0.86,1)" stroke="#8e6dd0" stroke-width="0.2">49.85</text>
<text x="181.98" y="541.4" font-size="10.0" fill="#f5d547" textLength="26.98" lengthAdjust="spacing" transform="scale(0.86,1)" stroke="#f5d547" stroke-width="0.2">56.44</text>
<text x="184.8" y="541.2" font-size="9.0" fill="#3b3e46" style="font-family:'Liberation Sans','DejaVu Sans',sans-serif" stroke="#3b3e46" stroke-width="0.2">∅</text>
<text x="196.5" y="541.2" font-size="9.0" fill="#3b3e46" style="font-family:'Liberation Sans','DejaVu Sans',sans-serif" stroke="#3b3e46" stroke-width="0.2">∅</text>
<line x1="8" y1="525.3" x2="1191.5" y2="525.3" stroke="#e6e8ef" stroke-width="1.2"/>
<text x="1336.40" y="61.16" font-size="10.8" fill="#50535e" textLength="36.74" lengthAdjust="spacing" transform="scale(0.86,1)" stroke="#50535e" stroke-width="0.2">2120.00</text>
<text x="1336.40" y="90.85" font-size="10.8" fill="#50535e" textLength="36.74" lengthAdjust="spacing" transform="scale(0.86,1)" stroke="#50535e" stroke-width="0.2">2080.00</text>
<text x="1336.40" y="120.54" font-size="10.8" fill="#50535e" textLength="36.74" lengthAdjust="spacing" transform="scale(0.86,1)" stroke="#50535e" stroke-width="0.2">2040.00</text>
<text x="1336.40" y="150.23" font-size="10.8" fill="#50535e" textLength="36.74" lengthAdjust="spacing" transform="scale(0.86,1)" stroke="#50535e" stroke-width="0.2">2000.00</text>
<text x="1336.40" y="179.92" font-size="10.8" fill="#50535e" textLength="36.74" lengthAdjust="spacing" transform="scale(0.86,1)" stroke="#50535e" stroke-width="0.2">1960.00</text>
<text x="1336.40" y="239.31" font-size="10.8" fill="#50535e" textLength="36.74" lengthAdjust="spacing" transform="scale(0.86,1)" stroke="#50535e" stroke-width="0.2">1880.00</text>
<text x="1336.40" y="298.69" font-size="10.8" fill="#50535e" textLength="36.74" lengthAdjust="spacing" transform="scale(0.86,1)" stroke="#50535e" stroke-width="0.2">1800.00</text>
<text x="1336.40" y="358.07" font-size="10.8" fill="#50535e" textLength="36.74" lengthAdjust="spacing" transform="scale(0.86,1)" stroke="#50535e" stroke-width="0.2">1720.00</text>
<text x="1336.40" y="387.76" font-size="10.8" fill="#50535e" textLength="36.74" lengthAdjust="spacing" transform="scale(0.86,1)" stroke="#50535e" stroke-width="0.2">1680.00</text>
<text x="1336.40" y="417.45" font-size="10.8" fill="#50535e" textLength="36.74" lengthAdjust="spacing" transform="scale(0.86,1)" stroke="#50535e" stroke-width="0.2">1640.00</text>
<text x="1336.40" y="447.15" font-size="10.8" fill="#50535e" textLength="36.74" lengthAdjust="spacing" transform="scale(0.86,1)" stroke="#50535e" stroke-width="0.2">1600.00</text>
<text x="1336.40" y="476.84" font-size="10.8" fill="#50535e" textLength="36.74" lengthAdjust="spacing" transform="scale(0.86,1)" stroke="#50535e" stroke-width="0.2">1560.00</text>
<text x="1336.40" y="506.53" font-size="10.8" fill="#50535e" textLength="36.74" lengthAdjust="spacing" transform="scale(0.86,1)" stroke="#50535e" stroke-width="0.2">1520.00</text>
<text x="1336.40" y="269.00" font-size="10.8" fill="#50535e" textLength="36.74" lengthAdjust="spacing" transform="scale(0.86,1)" stroke="#50535e" stroke-width="0.2">1840.00</text>
<g clip-path="url(#rsiaxis)">
<text x="1336.40" y="530.20" font-size="10.8" fill="#50535e" textLength="25.93" lengthAdjust="spacing" transform="scale(0.86,1)" stroke="#50535e" stroke-width="0.2">80.00</text>
<text x="1336.40" y="568.80" font-size="10.8" fill="#50535e" textLength="25.93" lengthAdjust="spacing" transform="scale(0.86,1)" stroke="#50535e" stroke-width="0.2">60.00</text>
<text x="1336.40" y="607.70" font-size="10.8" fill="#50535e" textLength="25.93" lengthAdjust="spacing" transform="scale(0.86,1)" stroke="#50535e" stroke-width="0.2">40.00</text>
</g>
<rect x="1142.9" y="37.95" width="42.9" height="12.4" rx="1.5" fill="#000"/>
<text x="1336.28" y="47.75" font-size="10.8" fill="#fff" textLength="37.44" lengthAdjust="spacing" transform="scale(0.86,1)">2136.28</text>
<rect x="1142.9" y="197.40" width="42.9" height="12.4" rx="1.5" fill="#000"/>
<text x="1336.28" y="207.20" font-size="10.8" fill="#fff" textLength="37.44" lengthAdjust="spacing" transform="scale(0.86,1)">1923.16</text>
<rect x="1142.9" y="269.90" width="42.9" height="12.4" rx="1.5" fill="#000"/>
<text x="1336.28" y="279.70" font-size="10.8" fill="#fff" textLength="37.44" lengthAdjust="spacing" transform="scale(0.86,1)">1825.80</text>
<rect x="1142.9" y="315.80" width="42.9" height="12.4" rx="1.5" fill="#000"/>
<text x="1336.28" y="325.60" font-size="10.8" fill="#fff" textLength="37.44" lengthAdjust="spacing" transform="scale(0.86,1)">1763.70</text>
<rect x="1142.9" y="242.1" width="45.8" height="24" rx="1.5" fill="#089981"/>
<text x="1336.28" y="252.9" font-size="10.8" fill="#fff" textLength="37.44" lengthAdjust="spacing" transform="scale(0.86,1)">1862.32</text>
<text x="1336.28" y="263.6" font-size="10.8" fill="#fff" textLength="41.28" lengthAdjust="spacing" transform="scale(0.86,1)">11:49:13</text>
<rect x="1145.4" y="23.8" width="43" height="18.9" rx="3" fill="#fff" stroke="#e6e8f0" stroke-width="1"/>
<text x="30.7" y="647.1" font-size="9.4" text-anchor="middle" fill="#4a4d57" stroke="#4a4d57" stroke-width="0.2">21</text>
<text x="116.3" y="647.1" font-size="9.4" text-anchor="middle" fill="#131722" font-weight="bold" textLength="14.6" lengthAdjust="spacingAndGlyphs" stroke="#131722" stroke-width="0.2">Apr</text>
<text x="186.4" y="647.1" font-size="9.4" text-anchor="middle" fill="#4a4d57" stroke="#4a4d57" stroke-width="0.2">10</text>
<text x="248.7" y="647.1" font-size="9.4" text-anchor="middle" fill="#4a4d57" stroke="#4a4d57" stroke-width="0.2">18</text>
<text x="349.8" y="647.1" font-size="9.4" text-anchor="middle" fill="#131722" font-weight="bold" textLength="17.2" lengthAdjust="spacingAndGlyphs" stroke="#131722" stroke-width="0.2">May</text>
<text x="458.8" y="647.1" font-size="9.4" text-anchor="middle" fill="#4a4d57" stroke="#4a4d57" stroke-width="0.2">15</text>
<text x="521.1" y="647.1" font-size="9.4" text-anchor="middle" fill="#4a4d57" stroke="#4a4d57" stroke-width="0.2">23</text>
<text x="591.1" y="647.1" font-size="9.4" text-anchor="middle" fill="#131722" font-weight="bold" textLength="16.3" lengthAdjust="spacingAndGlyphs" stroke="#131722" stroke-width="0.2">Jun</text>
<text x="676.8" y="647.1" font-size="9.4" text-anchor="middle" fill="#4a4d57" stroke="#4a4d57" stroke-width="0.2">12</text>
<text x="739.0" y="647.1" font-size="9.4" text-anchor="middle" fill="#4a4d57" stroke="#4a4d57" stroke-width="0.2">20</text>
<text x="824.7" y="647.1" font-size="9.4" text-anchor="middle" fill="#131722" font-weight="bold" textLength="13.5" lengthAdjust="spacingAndGlyphs" stroke="#131722" stroke-width="0.2">Jul</text>
<text x="894.7" y="647.1" font-size="9.4" text-anchor="middle" fill="#4a4d57" stroke="#4a4d57" stroke-width="0.2">10</text>
<text x="1003.7" y="647.1" font-size="9.4" text-anchor="middle" fill="#4a4d57" stroke="#4a4d57" stroke-width="0.2">24</text>
<text x="1066.0" y="647.1" font-size="9.4" text-anchor="middle" fill="#131722" font-weight="bold" textLength="16.6" lengthAdjust="spacingAndGlyphs" stroke="#131722" stroke-width="0.2">Aug</text>
<g fill="#131722" transform="translate(8.1 661.75) scale(0.413)"><path d="M14 22H7V11H0V4h14v18zM28 22h-8l7.5-18h8L28 22z"/><circle cx="20" cy="8" r="4"/></g>
<text x="25.8" y="670.9" font-size="9.9" fill="#50535e" stroke="#50535e" stroke-width="0.2">TradingView</text>
</svg></body></html>
